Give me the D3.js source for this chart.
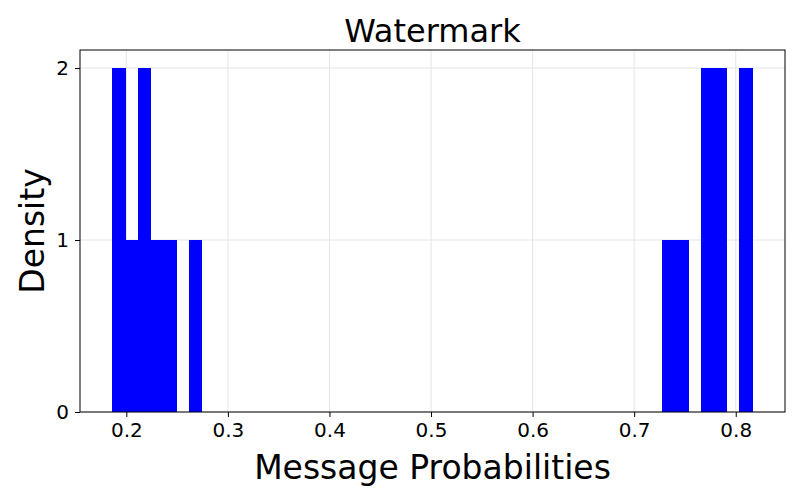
<!DOCTYPE html><html><head><script src="https://cdn.jsdelivr.net/npm/d3@7"></script>
<style>body{margin:0;background:#fff}text{font-family:"DejaVu Sans",sans-serif}</style></head><body><svg id="c" width="800" height="500"></svg>
<script>
const binStart = 0.186, binEnd = 0.816, nBins = 50;
const binIndex = [0,1,2,3,4,6,43,44,46,47,49];
const binDensity = [2,1,2,1,1,1,1,1,2,2,2];
const xTicks = [0.2,0.3,0.4,0.5,0.6,0.7,0.8];
const yTicks = [0,1,2];
const W=800,H=500,m={l:80,r:15,t:50,b:88};
const svg=d3.select("#c");
const x=d3.scaleLinear().domain([0.1544,0.8485]).range([m.l,W-m.r]);
const y=d3.scaleLinear().domain([0,2.105]).range([H-m.b,m.t]);
const bw=(binEnd-binStart)/nBins;
const g=svg.append("g");
g.selectAll(".gx").data(xTicks).join("line").attr("x1",d=>x(d)).attr("x2",d=>x(d)).attr("y1",m.t).attr("y2",H-m.b).attr("stroke","#e5e5e5");
g.selectAll(".gy").data(yTicks).join("line").attr("y1",d=>y(d)).attr("y2",d=>y(d)).attr("x1",m.l).attr("x2",W-m.r).attr("stroke","#e5e5e5");
svg.append("g").attr("shape-rendering","crispEdges").selectAll("rect").data(binIndex).join("rect")
 .attr("x",d=>x(binStart+d*bw)).attr("width",d=>x(binStart+(d+1)*bw)-x(binStart+d*bw)+0.8)
 .attr("y",(d,i)=>y(binDensity[i])).attr("height",(d,i)=>y(0)-y(binDensity[i])).attr("fill","#0000ff");
svg.append("rect").attr("x",m.l).attr("y",m.t).attr("width",W-m.l-m.r).attr("height",H-m.t-m.b).attr("fill","none").attr("stroke","#000");
const xa=svg.append("g").attr("transform",`translate(0,${H-m.b})`).call(d3.axisBottom(x).tickValues(xTicks).tickFormat(d3.format(".1f")).tickSize(5).tickPadding(6));
const ya=svg.append("g").attr("transform",`translate(${m.l},0)`).call(d3.axisLeft(y).tickValues(yTicks).tickFormat(d3.format("d")).tickSize(5).tickPadding(6));
[xa,ya].forEach(a=>{a.select(".domain").remove();a.selectAll("text").attr("font-size",20).attr("fill","#000").style("font-family","DejaVu Sans");});
svg.append("text").attr("x",(m.l+W-m.r)/2).attr("y",42).attr("text-anchor","middle").attr("font-size",32).text("Watermark");
svg.append("text").attr("x",(m.l+W-m.r)/2).attr("y",479).attr("text-anchor","middle").attr("font-size",33).text("Message Probabilities");
svg.append("text").attr("transform",`translate(44,${(m.t+H-m.b)/2}) rotate(-90)`).attr("text-anchor","middle").attr("font-size",33).text("Density");
</script></body></html>
